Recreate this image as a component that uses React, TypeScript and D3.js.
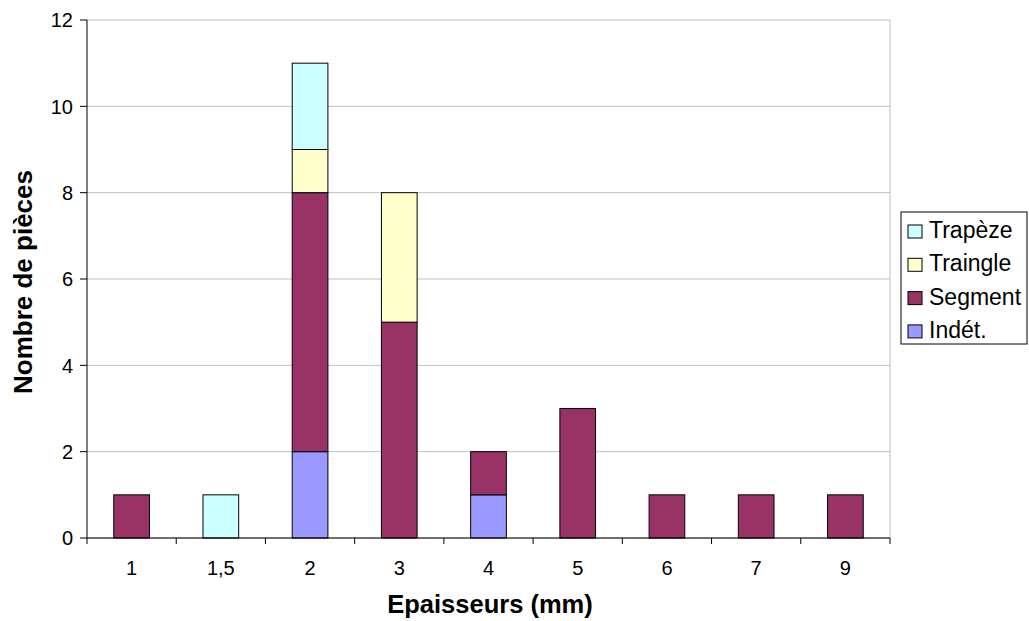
import React from "react";
import * as d3 from "d3";

const categories = ["1", "1,5", "2", "3", "4", "5", "6", "7", "9"];
const indet = [0, 0, 2, 0, 1, 0, 0, 0, 0];
const segment = [1, 0, 6, 5, 1, 3, 1, 1, 1];
const traingle = [0, 0, 1, 3, 0, 0, 0, 0, 0];
const trapeze = [0, 1, 2, 0, 0, 0, 0, 0, 0];
const seriesNames = ["Indét.", "Segment", "Traingle", "Trapèze"];
const seriesColors = ["#9999FF", "#993366", "#FFFFCC", "#CCFFFF"];
const yTicks = [0, 2, 4, 6, 8, 10, 12];

export default function App() {
  const W = 1029, H = 621;
  const left = 87, right = 890, top = 20, bottom = 538;
  const x = d3.scaleBand().domain(categories).range([left, right]).paddingInner(0.6).paddingOuter(0.3);
  const xb = d3.scaleBand().domain(categories).range([left, right]);
  const y = d3.scaleLinear().domain([0, 12]).range([bottom, top]);
  const table = categories.map((c, i) => ({ c, "Indét.": indet[i], Segment: segment[i], Traingle: traingle[i], "Trapèze": trapeze[i] }));
  const stack = d3.stack<any>().keys(seriesNames)(table);
  const font = "'Liberation Sans', Arial, sans-serif";
  const legendItems = [...seriesNames].reverse();
  return (
    <svg width={W} height={H} style={{ position: "absolute", left: 0, top: 0, fontFamily: font }}>
      <rect width={W} height={H} fill="#fff" />
      {yTicks.map(t => (
        <line key={t} x1={left} x2={right} y1={y(t)} y2={y(t)} stroke="#c0c0c0" strokeWidth={1} />
      ))}
      <line x1={right} x2={right} y1={top} y2={bottom} stroke="#c0c0c0" />
      {stack.map((s, si) => s.map((d, i) => d[1] - d[0] > 0 ? (
        <rect key={si + "-" + i} x={x(categories[i])!} width={x.bandwidth()} y={y(d[1])} height={y(d[0]) - y(d[1])}
          fill={seriesColors[si]} stroke="#000" strokeWidth={1} />
      ) : null))}
      <line x1={left} x2={left} y1={top} y2={bottom} stroke="#000" />
      <line x1={left} x2={right} y1={bottom} y2={bottom} stroke="#000" />
      {yTicks.map(t => (
        <g key={t}>
          <line x1={left - 7} x2={left} y1={y(t)} y2={y(t)} stroke="#000" />
          <text x={73} y={y(t)} dy="0.36em" textAnchor="end" fontSize={20}>{t}</text>
        </g>
      ))}
      {categories.map((c, i) => (
        <line key={c} x1={xb(c)!} x2={xb(c)!} y1={bottom} y2={bottom + 6} stroke="#000" />
      ))}
      <line x1={right} x2={right} y1={bottom} y2={bottom + 6} stroke="#000" />
      {categories.map(c => (
        <text key={c} x={xb(c)! + xb.bandwidth() / 2} y={575} textAnchor="middle" fontSize={20}>{c}</text>
      ))}
      <text x={490} y={613} textAnchor="middle" fontSize={25.5} fontWeight="bold">Epaisseurs (mm)</text>
      <text transform={`translate(32,282) rotate(-90)`} textAnchor="middle" fontSize={26} fontWeight="bold">Nombre de pièces</text>
      <rect x={901} y={212} width={126} height={132} fill="#fff" stroke="#000" />
      {legendItems.map((n, i) => {
        const ci = seriesNames.indexOf(n);
        const base = 238 + i * 33.3;
        return (
          <g key={n}>
            <rect x={908} y={base - 13} width={14} height={13} fill={seriesColors[ci]} stroke="#000" />
            <text x={929} y={base} fontSize={23}>{n}</text>
          </g>
        );
      })}
    </svg>
  );
}
